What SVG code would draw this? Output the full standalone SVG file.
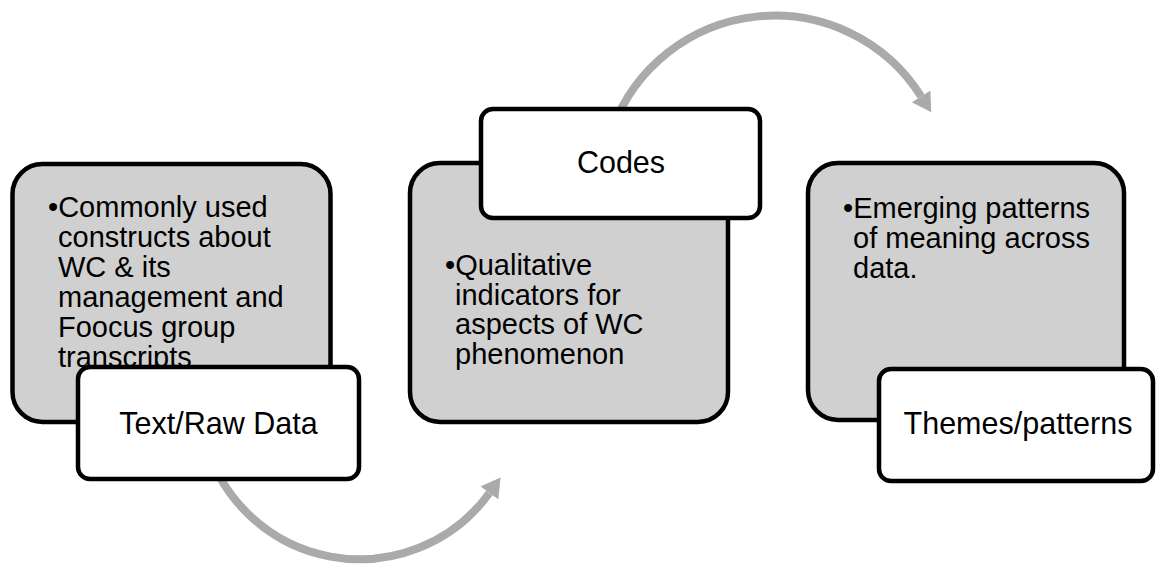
<svg xmlns="http://www.w3.org/2000/svg" width="1156" height="566" viewBox="0 0 1156 566">
  <defs>
    <marker id="arrowhead" markerUnits="userSpaceOnUse" markerWidth="24" markerHeight="24" refX="0" refY="11" orient="auto">
      <path d="M0,0 L19,11 L0,22 Z" fill="#aaaaaa"/>
    </marker>
  </defs>
  <style>
    .detail { fill: #d0d0d0; stroke: #000; stroke-width: 4.5; }
    .label { fill: #fff; stroke: #000; stroke-width: 4.5; }
    .body { font-family: "Liberation Sans", Arial, sans-serif; font-size: 29px; fill: #000; }
    .title { font-family: "Liberation Sans", Arial, sans-serif; font-size: 30.5px; fill: #000; text-anchor: middle; }
    .flow { fill: none; stroke: #aaaaaa; stroke-width: 8; marker-end: url(#arrowhead); }
  </style>

  <!-- curved arrows linking the stages -->
  <g id="connectors">
    <path class="flow" d="M205,440 A160,160 0 0 0 489.4,493"/>
    <path class="flow" d="M612,130 A173,173 0 0 1 921.1,96.3"/>
  </g>

  <!-- stage 1 -->
  <g id="raw-data-detail">
    <rect class="detail" x="12.5" y="164" width="318" height="258" rx="30"/>
    <text class="body">
      <tspan x="48" y="217">•Commonly used</tspan>
      <tspan x="58" y="247">constructs about</tspan>
      <tspan x="58" y="277">WC &amp; its</tspan>
      <tspan x="58" y="307">management and</tspan>
      <tspan x="58" y="337">Foocus group</tspan>
      <tspan x="58" y="367">transcripts</tspan>
    </text>
  </g>

  <!-- stage 2 -->
  <g id="codes-detail">
    <rect class="detail" x="410" y="163" width="318" height="259" rx="30"/>
    <text class="body">
      <tspan x="445" y="275">•Qualitative</tspan>
      <tspan x="455" y="305">indicators for</tspan>
      <tspan x="455" y="334">aspects of WC</tspan>
      <tspan x="455" y="364">phenomenon</tspan>
    </text>
  </g>

  <!-- stage 3 -->
  <g id="themes-detail">
    <rect class="detail" x="808" y="163" width="316" height="257" rx="30"/>
    <text class="body">
      <tspan x="843" y="218">•Emerging patterns</tspan>
      <tspan x="853" y="248">of meaning across</tspan>
      <tspan x="853" y="278">data.</tspan>
    </text>
  </g>

  <g id="raw-data-label">
    <rect class="label" x="78" y="367" width="281" height="112" rx="12"/>
    <text class="title" x="218.5" y="434">Text/Raw Data</text>
  </g>

  <g id="codes-label">
    <rect class="label" x="481" y="109" width="279" height="109" rx="12"/>
    <text class="title" x="621" y="173">Codes</text>
  </g>

  <g id="themes-label">
    <rect class="label" x="879" y="369" width="274" height="112" rx="12"/>
    <text class="title" x="1018" y="434">Themes/patterns</text>
  </g>
</svg>
